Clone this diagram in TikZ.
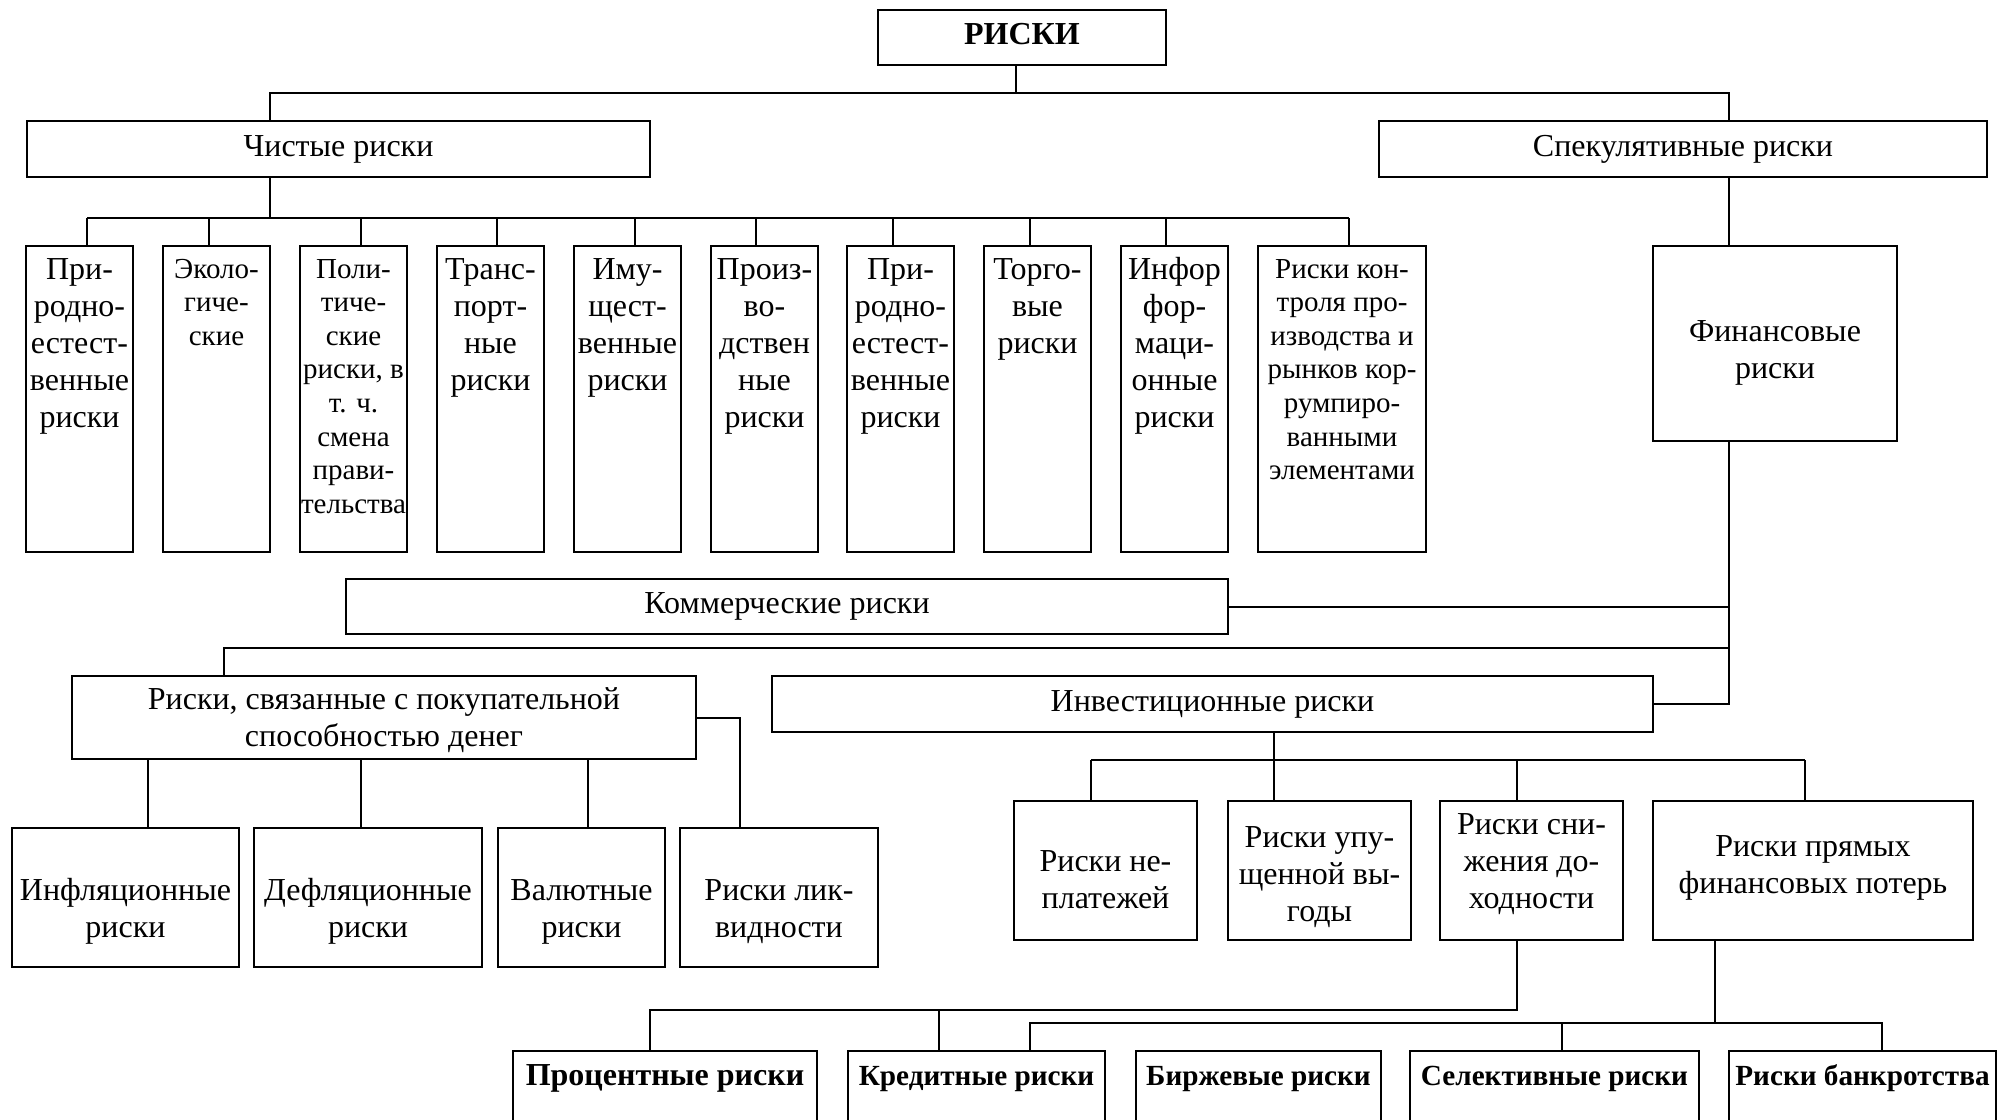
\documentclass[tikz,border=0pt]{standalone}
\usepackage{fontspec}
\setmainfont{Liberation Serif}
\newcommand\fbig{\fontsize{16pt}{18.5pt}\selectfont}
\newcommand\fsml{\fontsize{14.5pt}{16.8pt}\selectfont}
\newcommand\fbld{\fontsize{14.6pt}{17pt}\selectfont\bfseries}
\newcommand\ml[1]{\begin{tabular}[t]{@{}c@{}}#1\end{tabular}}
\tikzset{
  bx/.style={draw, line width=1.2pt, inner sep=0pt, outer sep=0pt, align=center, font=\fbig},
  ln/.style={line width=1pt},
  tp/.style 2 args={text height=#1, text depth=#2},
  topbig/.style={tp={16.5pt}{136.5pt}},
  topsml/.style={tp={16pt}{137pt}, font=\fsml},
  topbold/.style={tp={17pt}{27.5pt}, font=\fbld},
}
\newcommand\rbox[7][]{\node[bx,anchor=north west,minimum width={(#5-#3)*0.5pt},minimum height={(#6-#4)*0.5pt},#1] (#2) at (#3,#4) {#7};}
\begin{document}
\begin{tikzpicture}[x=0.5pt,y=-0.5pt]
\useasboundingbox (0,0) rectangle (2001,1119);
\clip (0,0) rectangle (2001,1119);
\fill[white] (0,0) rectangle (2001,1119);
% level 0-1
\rbox[tp={17pt}{10.5pt},font=\fbig\bfseries]{root}{878}{10}{1166}{65}{РИСКИ}
\rbox{chist}{27}{121}{650}{177}{Чистые риски}
\rbox{spek}{1379}{121}{1987}{177}{Спекулятивные риски}
% tall boxes
\rbox[topbig]{b1}{26}{246}{133}{552}{\ml{При-\\родно-\\естест-\\венные\\риски}}
\rbox[topsml]{b2}{163}{246}{270}{552}{\ml{Эколо-\\гиче-\\ские}}
\rbox[topsml]{b3}{300}{246}{407}{552}{\ml{Поли-\\тиче-\\ские\\риски, в\\т. ч.\\смена\\прави-\\тельства}}
\rbox[topbig]{b4}{437}{246}{544}{552}{\ml{Транс-\\порт-\\ные\\риски}}
\rbox[topbig]{b5}{574}{246}{681}{552}{\ml{Иму-\\щест-\\венные\\риски}}
\rbox[topbig]{b6}{711}{246}{818}{552}{\ml{Произ-\\во-\\дствен\\ные\\риски}}
\rbox[topbig]{b7}{847}{246}{954}{552}{\ml{При-\\родно-\\естест-\\венные\\риски}}
\rbox[topbig]{b8}{984}{246}{1091}{552}{\ml{Торго-\\вые\\риски}}
\rbox[topbig]{b9}{1121}{246}{1228}{552}{\ml{Инфор\\фор-\\маци-\\онные\\риски}}
\rbox[topsml]{b10}{1258}{246}{1426}{552}{\ml{Риски кон-\\троля про-\\изводства и\\рынков кор-\\румпиро-\\ванными\\элементами}}
\rbox[tp={47.5pt}{50pt}]{fin}{1653}{246}{1897}{441}{\ml{Финансовые\\риски}}
% middle
\rbox{com}{346}{579}{1228}{634}{Коммерческие риски}
\rbox[tp={16.5pt}{25pt}]{rs}{72}{676}{696}{759}{\ml{Риски, связанные с покупательной\\способностью денег}}
\rbox{inv}{772}{676}{1653}{732}{Инвестиционные риски}
\rbox[tp={36pt}{33.5pt}]{infl}{12}{828}{239}{967}{\ml{Инфляционные\\риски}}
\rbox[tp={36pt}{33.5pt}]{defl}{254}{828}{482}{967}{\ml{Дефляционные\\риски}}
\rbox[tp={36pt}{33.5pt}]{val}{498}{828}{665}{967}{\ml{Валютные\\риски}}
\rbox[tp={36pt}{33.5pt}]{liq}{680}{828}{878}{967}{\ml{Риски лик-\\видности}}
\rbox[tp={35pt}{34.5pt}]{nep}{1014}{801}{1197}{940}{\ml{Риски не-\\платежей}}
\rbox[tp={23pt}{46.5pt}]{upu}{1228}{801}{1411}{940}{\ml{Риски упу-\\щенной вы-\\годы}}
\rbox[tp={16.5pt}{53pt}]{sni}{1440}{801}{1623}{940}{\ml{Риски сни-\\жения до-\\ходности}}
\rbox[tp={27.5pt}{42pt}]{pry}{1653}{801}{1973}{940}{\ml{Риски прямых\\финансовых потерь}}
% bottom
\rbox[topbold,font=\fbig\bfseries]{proc}{513}{1051}{817}{1140}{Процентные риски}
\rbox[topbold]{kred}{848}{1051}{1105}{1140}{Кредитные риски}
\rbox[topbold]{birzh}{1136}{1051}{1381}{1140}{Биржевые риски}
\rbox[topbold]{sel}{1410}{1051}{1699}{1140}{Селективные риски}
\rbox[topbold]{bank}{1729}{1051}{1996}{1140}{Риски банкротства}
% connectors
\coordinate (t1) at (1016,93);
\coordinate (t2) at (270,93);
\coordinate (t3) at (1729,93);
\draw[ln] (root.south -| t1) -- (t1);
\draw[ln] (chist.north -| t2) -- (t2) -- (t3) -- (spek.north -| t3);
\coordinate (c0) at (270,218);
\draw[ln] (chist.south -| c0) -- (c0);
\foreach \i/\x in {1/87,2/209,3/361,4/497,5/635,6/756,7/893,8/1030,9/1166,10/1349}{
  \coordinate (p\i) at (\x,218);
  \draw[ln] (p\i) -- (b\i.north -| p\i);
}
\draw[ln] (p1) -- (p10);
\draw[ln] (spek.south -| t3) -- (fin.north -| t3);
\coordinate (f1) at (1729,704);
\coordinate (f2) at (1729,648);
\draw[ln] (fin.south -| t3) -- (f1) -- (inv.east);
\draw[ln] (com.east) -- (com.east -| f1);
\coordinate (s0) at (224,648);
\draw[ln] (f2) -- (s0) -- (rs.north -| s0);
\foreach \n/\x in {infl/148,defl/361,val/588}{
  \coordinate (r\n) at (\x,790);
  \draw[ln] (rs.south -| r\n) -- (\n.north -| r\n);
}
\coordinate (q4) at (740,718);
\draw[ln] (rs.east) -| (liq.north -| q4);
% investment children
\coordinate (v0) at (1274,760);
\coordinate (v1) at (1091,760);
\coordinate (v4) at (1805,760);
\draw[ln] (inv.south -| v0) -- (v0);
\draw[ln] (v1) -- (v4);
\foreach \n/\x in {nep/1091,upu/1274,sni/1517,pry/1805}{
  \coordinate (v\n) at (\x,760);
  \draw[ln] (v\n) -- (\n.north -| v\n);
}
% bottom buses
\coordinate (w0) at (1517,1010);
\coordinate (w1) at (650,1010);
\coordinate (w2) at (939,1010);
\draw[ln] (sni.south -| w0) -- (w0) -- (w1) -- (proc.north -| w1);
\draw[ln] (w2) -- (kred.north -| w2);
\coordinate (z0) at (1715,1023);
\coordinate (z1) at (1030,1023);
\coordinate (z2) at (1562,1023);
\coordinate (z3) at (1882,1023);
\draw[ln] (pry.south -| z0) -- (z0);
\draw[ln] (kred.north -| z1) -- (z1) -- (z3) -- (bank.north -| z3);
\draw[ln] (z2) -- (sel.north -| z2);
\end{tikzpicture}
\end{document}
